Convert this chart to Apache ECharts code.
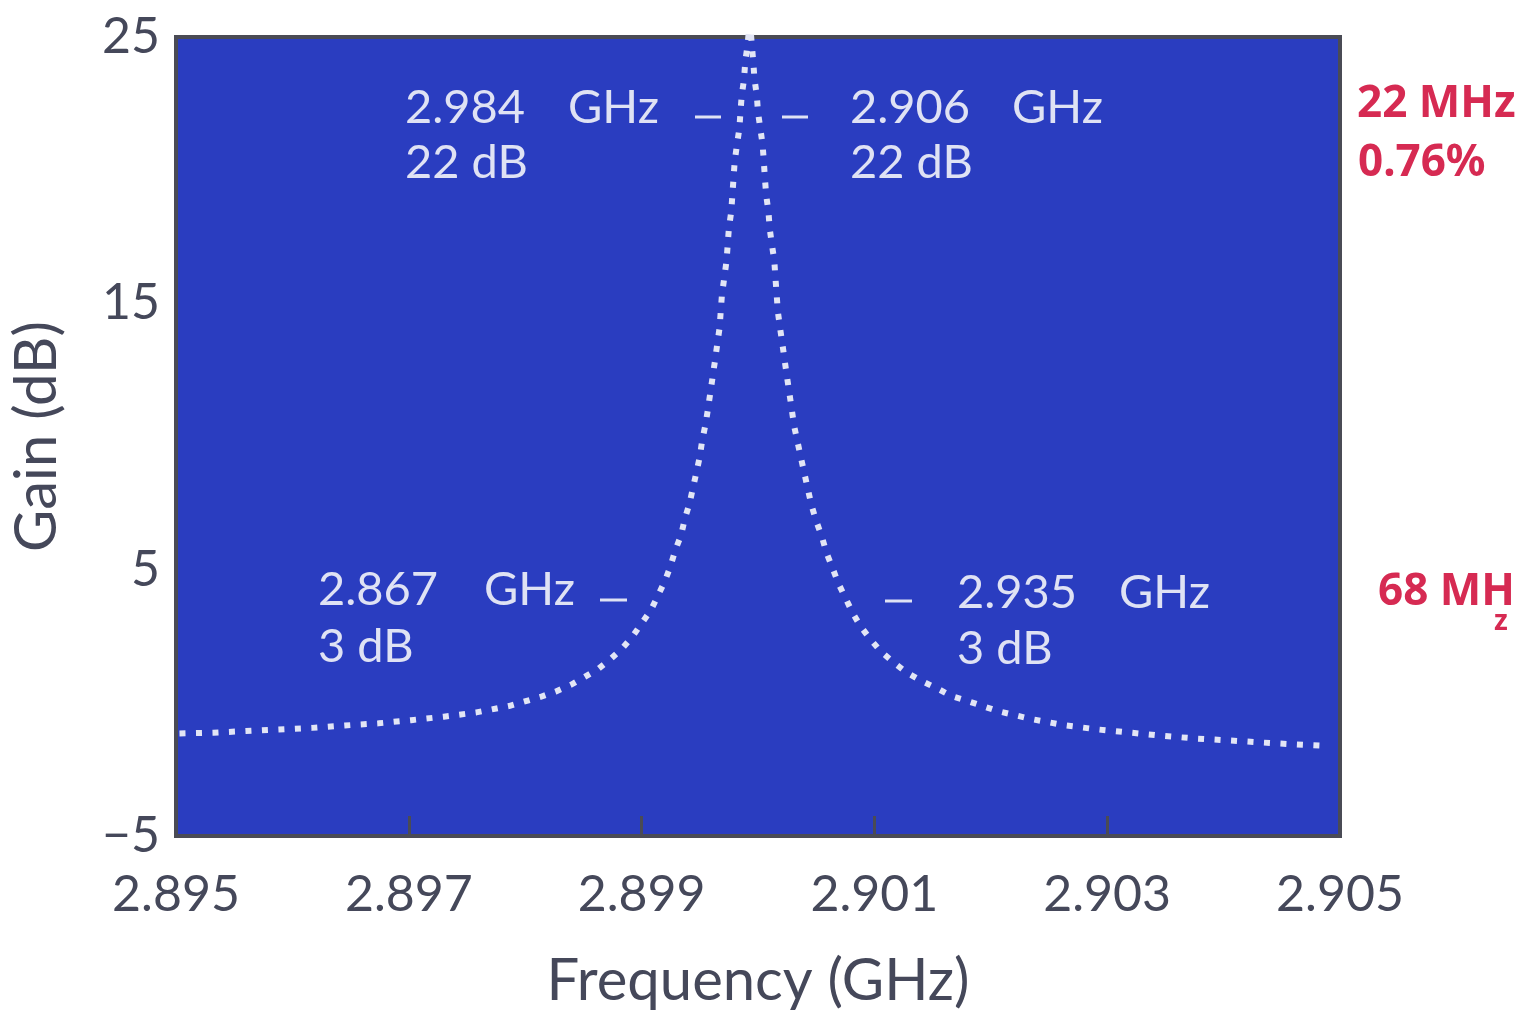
<!DOCTYPE html>
<html>
<head>
<meta charset="utf-8">
<script src="https://cdn.jsdelivr.net/npm/echarts@6/dist/echarts.min.js"></script>
<style>
  html, body { margin: 0; padding: 0; background: #ffffff; }
  #chart { width: 1524px; height: 1013px; }
</style>
</head>
<body>
<div id="chart"></div>
<script>
// ---- data ----
const freqGHz = [
  2.89503, 2.89532, 2.89560, 2.89588, 2.89617, 2.89645, 2.89674, 2.89702, 2.89730, 2.89758,
  2.89786, 2.89813, 2.89826, 2.89839, 2.89851, 2.89863, 2.89873, 2.89883, 2.89892, 2.89900,
  2.89908, 2.89914, 2.89920, 2.89925, 2.89929, 2.89934, 2.89937, 2.89941, 2.89944, 2.89947,
  2.89950, 2.89952, 2.89955, 2.89957, 2.89959, 2.89961, 2.89963, 2.89965, 2.89967, 2.89968,
  2.89969, 2.89971, 2.89973, 2.89974, 2.89975, 2.89977, 2.89978, 2.89979, 2.89980, 2.89982,
  2.89984, 2.89985, 2.89986, 2.89988, 2.89989, 2.89991, 2.89993,
  2.89996, 2.89997, 2.89999, 2.90000, 2.90002, 2.90004, 2.90005, 2.90006, 2.90007, 2.90009,
  2.90010, 2.90012, 2.90014, 2.90015, 2.90016, 2.90017, 2.90019, 2.90021, 2.90023, 2.90025,
  2.90027, 2.90029, 2.90031, 2.90034, 2.90037, 2.90040, 2.90043, 2.90046, 2.90050, 2.90055,
  2.90059, 2.90064, 2.90069, 2.90075, 2.90081, 2.90088, 2.90097, 2.90106, 2.90117, 2.90128,
  2.90140, 2.90154, 2.90166, 2.90180, 2.90206, 2.90235, 2.90263, 2.90292, 2.90320, 2.90348,
  2.90376, 2.90405, 2.90433, 2.90461, 2.90490
];
const gainDB = [
  -1.15, -1.12, -1.06, -1.00, -0.94, -0.85, -0.77, -0.65, -0.52, -0.36,
  -0.12, 0.22, 0.42, 0.67, 0.97, 1.28, 1.63, 2.03, 2.48, 2.98,
  3.48, 4.02, 4.57, 5.15, 5.74, 6.30, 6.89, 7.46, 8.04, 8.64,
  9.24, 9.84, 10.47, 11.03, 11.63, 12.23, 12.83, 13.47, 14.08, 14.71,
  15.31, 15.96, 16.60, 17.23, 17.82, 18.44, 19.07, 19.72, 20.34, 20.97,
  21.57, 22.22, 22.80, 23.41, 24.05, 24.70, 25.60,
  24.03, 23.41, 22.80, 22.17, 21.57, 20.94, 20.32, 19.66, 19.07, 18.44,
  17.82, 17.19, 16.60, 15.94, 15.35, 14.71, 14.06, 13.46, 12.83, 12.21,
  11.62, 11.02, 10.40, 9.79, 9.18, 8.59, 7.99, 7.41, 6.83, 6.22,
  5.61, 5.07, 4.49, 3.95, 3.40, 2.88, 2.36, 1.91, 1.50, 1.13,
  0.83, 0.54, 0.26, 0.07, -0.31, -0.61, -0.84, -1.00, -1.12, -1.24,
  -1.34, -1.41, -1.49, -1.56, -1.62
];
const xTicks = [2.895, 2.897, 2.899, 2.901, 2.903, 2.905];
const yTicks = [-5, 5, 15, 25];
const xTitle = 'Frequency (GHz)';
const yTitle = 'Gain (dB)';
const annotFreq = ['2.984', '2.906', '2.867', '2.935'];
const annotUnit = 'GHz';
const annotGain = ['22 dB', '22 dB', '3 dB', '3 dB'];
const handNotes = ['22 MHz', '0.76%', '68 MH', 'z'];

// ---- chart ----
const chart = echarts.init(document.getElementById('chart'), null, { renderer: 'canvas' });

const axisGrey = '#45485a';
const textWhite = '#dfe2f4';
const annFont = 'normal 47px Lato';
const handFont = 'bold 44px "Noto Sans"';
const handRed = '#d62a52';

function txt(text, x, y, font, fill) {
  return { type: 'text', x: x, y: y, z: 100,
    style: { text: text, font: font, fill: fill, textAlign: 'left', textVerticalAlign: 'middle' } };
}
function dash(x1, x2, y) {
  return { type: 'line', z: 100, shape: { x1: x1, y1: y, x2: x2, y2: y },
    style: { stroke: textWhite, lineWidth: 3 } };
}

const graphics = [
  // upper left
  txt(annotFreq[0], 405, 108, annFont, textWhite),
  txt(annotUnit, 568, 108, annFont, textWhite),
  dash(695, 721, 117),
  txt(annotGain[0], 405, 163, annFont, textWhite),
  // upper right
  dash(782, 808, 117),
  txt(annotFreq[1], 850, 108, annFont, textWhite),
  txt(annotUnit, 1012, 108, annFont, textWhite),
  txt(annotGain[1], 850, 163, annFont, textWhite),
  // lower left
  txt(annotFreq[2], 318, 590, annFont, textWhite),
  txt(annotUnit, 484, 590, annFont, textWhite),
  dash(600, 627, 600),
  txt(annotGain[2], 318, 647, annFont, textWhite),
  // lower right
  dash(885, 912, 601),
  txt(annotFreq[3], 957, 593, annFont, textWhite),
  txt(annotUnit, 1119, 593, annFont, textWhite),
  txt(annotGain[3], 957, 649, annFont, textWhite),
  // handwritten notes
  txt(handNotes[0], 1357, 104, handFont, handRed),
  txt(handNotes[1], 1358, 163, handFont, handRed),
  txt(handNotes[2], 1378, 592, handFont, handRed),
  txt(handNotes[3], 1494, 622, 'bold 28px "Noto Sans"', handRed)
];

const option = {
  backgroundColor: '#ffffff',
  animation: false,
  grid: {
    left: 176, right: 184, top: 37, bottom: 177,
    show: true,
    outerBoundsMode: 'none',
    containLabel: false,
    backgroundColor: '#2a3dc0',
    borderColor: '#4a4b55',
    borderWidth: 4
  },
  xAxis: {
    type: 'value',
    min: xTicks[0],
    max: xTicks[xTicks.length - 1],
    interval: 0.002,
    name: xTitle,
    nameLocation: 'middle',
    nameGap: 116,
    nameTextStyle: { fontFamily: 'Lato', fontSize: 58, color: axisGrey },
    axisLine: { show: false, onZero: false },
    axisTick: { show: true, inside: true, length: 20, lineStyle: { color: '#4a4b55', width: 3 } },
    splitLine: { show: false },
    axisLabel: {
      margin: 34, fontFamily: 'Lato', fontSize: 50, color: axisGrey,
      formatter: v => v.toFixed(3)
    }
  },
  yAxis: {
    type: 'value',
    min: yTicks[0],
    max: yTicks[yTicks.length - 1],
    interval: 10,
    name: yTitle,
    nameLocation: 'middle',
    nameRotate: 90,
    nameGap: 110,
    nameTextStyle: { fontFamily: 'Lato', fontSize: 58, color: axisGrey },
    axisLine: { show: false, onZero: false },
    axisTick: { show: false },
    splitLine: { show: false },
    axisLabel: {
      margin: 16, fontFamily: 'Lato', fontSize: 50, color: axisGrey,
      formatter: v => (v < 0 ? '\u2212' + Math.abs(v) : String(v))
    }
  },
  series: [{
    type: 'line',
    data: freqGHz.map((f, i) => [f, gainDB[i]]),
    showSymbol: false,
    symbol: 'none',
    smooth: false,
    clip: true,
    lineStyle: { color: '#e2e5f5', width: 6, type: [6, 10.5], cap: 'butt' }
  }],
  graphic: graphics
};

chart.setOption(option);
</script>
</body>
</html>
